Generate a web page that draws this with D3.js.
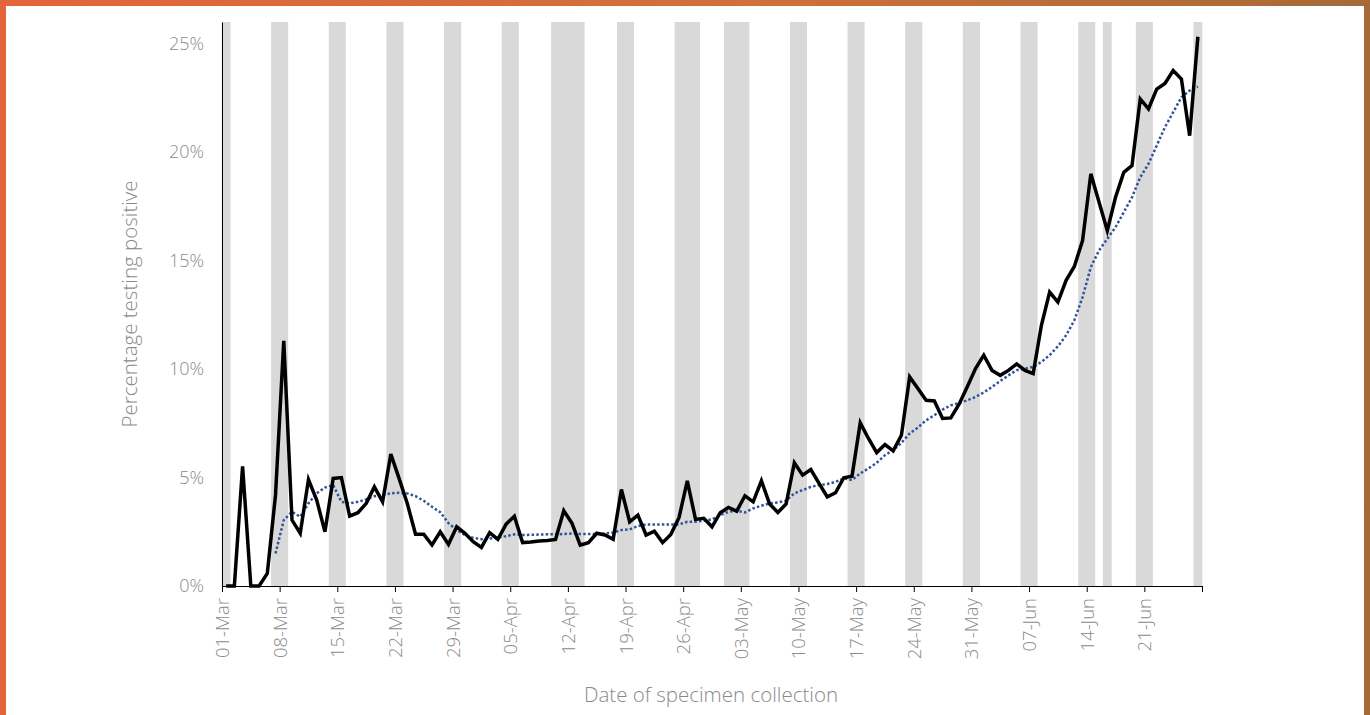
<html>
<head>
	<script src="https://d3js.org/d3.v7.min.js"></script>
	<style type="text/css">
		body { margin: 0; background: #fff; }
		text { font-family: "Open Sans", "DejaVu Sans", sans-serif; font-weight: 300; fill: #8a8a8a; }
	</style>
</head>
<body>
<div id="chart"></div>
<script type="text/javascript">
	// daily % testing positive, 01-Mar .. 27-Jun
	var startDay = "2020-03-01";
	var dailyPct = [
		0, 0, 5.52, 0, 0, 0.58, 4.2, 11.3, 3.04, 2.43,
		4.91, 3.96, 2.5, 4.96, 5.0, 3.22, 3.38, 3.8, 4.57, 3.88,
		6.08, 4.96, 3.8, 2.39, 2.39, 1.89, 2.5, 1.92, 2.73, 2.43,
		2.04,
		1.78, 2.46, 2.15, 2.85, 3.22, 2.0, 2.03, 2.07, 2.1, 2.15,
		3.47, 2.89, 1.89, 2.0, 2.43, 2.35, 2.15, 4.45, 2.96, 3.27,
		2.35, 2.53, 2.0, 2.38, 3.16, 4.85, 3.07, 3.12, 2.73, 3.38,
		3.62, 3.45, 4.16, 3.88, 4.85, 3.78, 3.39, 3.78, 5.68, 5.11,
		5.37, 4.73, 4.11, 4.3, 4.99, 5.06, 7.52, 6.8, 6.15, 6.52,
		6.23, 6.95, 9.64, 9.1, 8.56, 8.53, 7.72, 7.75, 8.38, 9.18,
		10.02,
		10.64, 9.94, 9.71, 9.94, 10.24, 9.94, 9.79, 12.02, 13.55, 13.09,
		14.09, 14.73, 15.93, 19.0, 17.69, 16.39, 17.92, 19.07, 19.38, 22.45,
		21.99, 22.91, 23.17, 23.76, 23.37, 20.76, 25.32
	];
	// 7 day moving average, first value on 07-Mar
	var avgStart = "2020-03-07";
	var avgPct = [
		1.5, 3.04, 3.42, 3.19, 3.81, 4.27, 4.54, 4.65, 3.88, 3.81,
		3.88, 3.99, 4.14, 4.19, 4.27, 4.3, 4.27, 4.14, 3.93, 3.65,
		3.4, 2.9, 2.58, 2.35, 2.22,
		2.16, 2.19, 2.22, 2.3, 2.38, 2.35, 2.36, 2.37, 2.38, 2.38,
		2.4, 2.42, 2.4, 2.4, 2.4, 2.42, 2.46, 2.58, 2.61, 2.76,
		2.84, 2.84, 2.84, 2.84, 2.84, 2.96, 2.96, 3.01, 3.07, 3.27,
		3.42, 3.47, 3.39, 3.58, 3.7, 3.81, 3.85, 3.93, 4.27, 4.42,
		4.57, 4.65, 4.7, 4.8, 4.96, 4.88, 5.19, 5.42, 5.68, 6.03,
		6.26, 6.6, 7.03, 7.31, 7.64, 7.87, 8.13, 8.33, 8.44, 8.56,
		8.72,
		8.92, 9.18, 9.45, 9.71, 9.95, 10.02, 10.1, 10.33, 10.64, 11.05,
		11.56, 12.25, 13.32, 14.7, 15.47, 16.0, 16.54, 17.23, 17.92, 18.84,
		19.46, 20.3, 21.15, 21.84, 22.53, 22.84, 23.02
	];
	// shaded days (weekends and holidays)
	var shadedDays = [
		"2020-03-01", "2020-03-07", "2020-03-08", "2020-03-14", "2020-03-15",
		"2020-03-21", "2020-03-22", "2020-03-28", "2020-03-29",
		"2020-04-04", "2020-04-05", "2020-04-10", "2020-04-11", "2020-04-12", "2020-04-13",
		"2020-04-18", "2020-04-19", "2020-04-25", "2020-04-26", "2020-04-27",
		"2020-05-01", "2020-05-02", "2020-05-03", "2020-05-09", "2020-05-10",
		"2020-05-16", "2020-05-17", "2020-05-23", "2020-05-24", "2020-05-30", "2020-05-31",
		"2020-06-06", "2020-06-07", "2020-06-13", "2020-06-14", "2020-06-16",
		"2020-06-20", "2020-06-21", "2020-06-27"
	];
	var yTicks = [0, 5, 10, 15, 20, 25];

	var W = 1370, H = 715;
	var margin = {top: 22, right: 168, bottom: 129, left: 222};
	var parse = d3.utcParse("%Y-%m-%d");
	var fmt = d3.utcFormat("%d-%b");

	var d0 = parse(startDay);
	var dEnd = d3.utcDay.offset(d0, dailyPct.length);
	var daily = dailyPct.map(function(v, i) { return {date: d3.utcDay.offset(d0, i), v: v}; });
	var a0 = parse(avgStart);
	var avg = avgPct.map(function(v, i) { return {date: d3.utcDay.offset(a0, i), v: v}; });

	var x = d3.scaleUtc().domain([d0, dEnd]).range([margin.left, W - margin.right]);
	var y = d3.scaleLinear().domain([0, 26]).range([H - margin.bottom, margin.top]);
	var mid = function(d) { return x(d3.utcHour.offset(d, 12)); };

	var svg = d3.select("#chart").append("svg")
		.attr("width", W)
		.attr("height", H);

	// orange frame
	var grad = svg.append("defs").append("linearGradient")
		.attr("id", "frame")
		.attr("x1", "0%").attr("x2", "100%");
	grad.append("stop").attr("offset", "0%").attr("stop-color", "#e2663a");
	grad.append("stop").attr("offset", "55%").attr("stop-color", "#d0703a");
	grad.append("stop").attr("offset", "100%").attr("stop-color", "#a56a38");
	svg.append("rect").attr("width", W).attr("height", H).attr("fill", "url(#frame)");
	svg.append("rect").attr("x", 6).attr("y", 6).attr("width", W - 12).attr("height", H - 6).attr("fill", "#fff");

	// shaded bands (slight overlap so neighbouring days join up)
	svg.append("g").selectAll("rect")
		.data(shadedDays.map(parse))
		.enter().append("rect")
		.attr("x", function(d) { return x(d) - 0.3; })
		.attr("width", function(d) { return x(d3.utcDay.offset(d, 1)) - x(d) + 0.6; })
		.attr("y", margin.top)
		.attr("height", y(0) - margin.top)
		.attr("fill", "#d9d9d9");

	// y axis
	var yAxis = svg.append("g")
		.attr("transform", "translate(" + margin.left + ",0)")
		.call(d3.axisLeft(y).tickValues(yTicks).tickSize(0).tickPadding(18)
			.tickFormat(function(d) { return d + "%"; }));
	yAxis.select(".domain").attr("stroke", "#000");
	yAxis.selectAll("text").attr("font-size", 18).attr("fill", "#8a8a8a")
		.style("font-family", null);

	// x axis
	var xAxis = svg.append("g")
		.attr("transform", "translate(0," + y(0) + ")")
		.call(d3.axisBottom(x).ticks(d3.utcWeek.every(1)).tickSizeOuter(0).tickSize(6)
			.tickFormat(function(d) { return +d < +dEnd ? fmt(d) : ""; }));
	xAxis.select(".domain").attr("stroke", "#000");
	xAxis.selectAll("line").attr("stroke", "#000");
	xAxis.selectAll("text")
		.attr("font-size", 18.5)
		.attr("fill", "#8a8a8a")
		.style("font-family", null)
		.attr("text-anchor", "end")
		.attr("transform", "rotate(-90)")
		.attr("x", -12)
		.attr("y", 0)
		.attr("dy", "0.35em");

	// moving average
	svg.append("path")
		.datum(avg)
		.attr("fill", "none")
		.attr("stroke", "#2f5597")
		.attr("stroke-width", 2.5)
		.attr("stroke-dasharray", "2.5,2.2")
		.attr("d", d3.line().x(function(d) { return mid(d.date); }).y(function(d) { return y(d.v); }));

	// daily line
	svg.append("path")
		.datum(daily)
		.attr("fill", "none")
		.attr("stroke", "#000")
		.attr("stroke-width", 3.5)
		.attr("d", d3.line().x(function(d) { return mid(d.date); }).y(function(d) { return y(d.v); }));

	// titles
	svg.append("text")
		.attr("transform", "translate(137," + ((margin.top + y(0)) / 2) + ") rotate(-90)")
		.attr("text-anchor", "middle")
		.attr("font-size", 20.5)
		.text("Percentage testing positive");
	svg.append("text")
		.attr("x", 711)
		.attr("y", 702)
		.attr("text-anchor", "middle")
		.attr("font-size", 20.5)
		.text("Date of specimen collection");
</script>
</body>
</html>
